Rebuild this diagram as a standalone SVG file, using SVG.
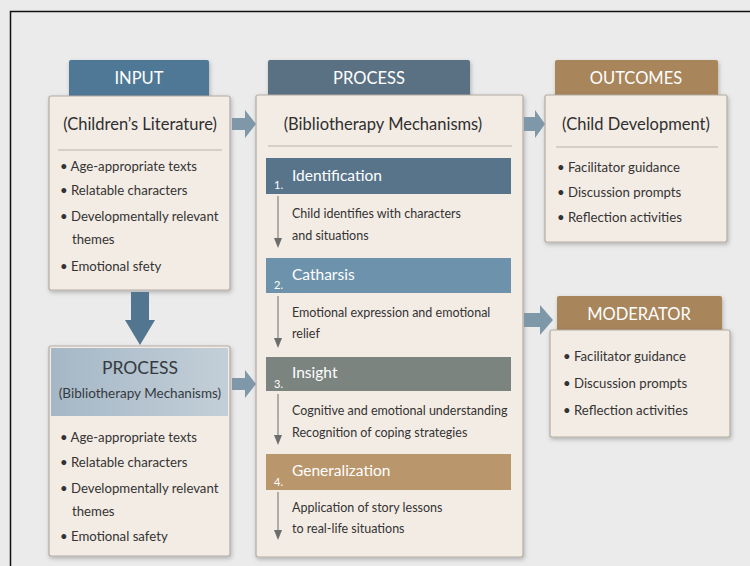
<svg xmlns="http://www.w3.org/2000/svg" width="750" height="566" viewBox="0 0 750 566">
<defs>
<filter id="sh" x="-10%" y="-10%" width="125%" height="125%">
<feDropShadow dx="1" dy="2" stdDeviation="2" flood-color="#000" flood-opacity="0.25"/>
</filter>
<linearGradient id="pg" x1="0" y1="0" x2="1" y2="0">
<stop offset="0" stop-color="#a5b7c6"/><stop offset="1" stop-color="#c3cfd8"/>
</linearGradient>
</defs>
<style>
text{font-family:Lato,"Open Sans","Liberation Sans",sans-serif}
.box{fill:#f3ece5;stroke:#b3aba3;stroke-width:1.2;filter:url(#sh)}
.tab{filter:url(#sh)}
.tt{fill:#fff;font-size:16.5px;text-anchor:middle}
.sub{fill:#2f2f2f;font-size:16.5px;text-anchor:middle}
.b{fill:#333;font-size:13.2px}
.d{fill:#333;font-size:12.5px}
.st{fill:#fff;font-size:15.5px}
.num{fill:#fff;font-size:11px}
.sep{stroke:#b9b1a9;stroke-width:1}
.ar{fill:#7f98a9}
.vl{stroke:#6d6d6d;stroke-width:1}
.vh{fill:#6d6d6d}
</style>
<rect x="0" y="0" width="750" height="566" fill="#ebebeb"/>
<path d="M10.5 566 V11.5 H750" fill="none" stroke="#111" stroke-width="1.5"/>

<g id="input">
<rect class="tab" x="69" y="60" width="140" height="38" rx="2" fill="#4f7896"/>
<text class="tt" x="139" y="84">INPUT</text>
<rect class="box" x="49" y="96" width="181" height="194" rx="2"/>
<text class="sub" x="140" y="130">(Children’s Literature)</text>
<line class="sep" x1="58" y1="150" x2="222" y2="150"/>
<text class="b" x="60" y="171">• Age-appropriate texts</text>
<text class="b" x="60" y="195">• Relatable characters</text>
<text class="b" x="60" y="221">• Developmentally relevant</text>
<text class="b" x="72" y="244">themes</text>
<text class="b" x="60" y="271">• Emotional sfety</text>
</g>

<g id="process-left">
<rect class="box" x="49" y="346" width="181" height="210" rx="2"/>
<rect x="51" y="348" width="177" height="68" fill="url(#pg)"/>
<text x="140" y="374" font-size="17.5" fill="#353a41" text-anchor="middle">PROCESS</text>
<text x="140" y="398" font-size="13.5" fill="#353a41" text-anchor="middle">(Bibliotherapy Mechanisms)</text>
<text class="b" x="60" y="442">• Age-appropriate texts</text>
<text class="b" x="60" y="467">• Relatable characters</text>
<text class="b" x="60" y="493">• Developmentally relevant</text>
<text class="b" x="72" y="516">themes</text>
<text class="b" x="60" y="541">• Emotional safety</text>
</g>

<g id="process">
<rect class="tab" x="268" y="60" width="202" height="38" rx="2" fill="#5a7184"/>
<text class="tt" x="369" y="84">PROCESS</text>
<rect class="box" x="256" y="95" width="267" height="462" rx="2"/>
<text class="sub" x="383" y="130">(Bibliotherapy Mechanisms)</text>
<line class="sep" x1="268" y1="146" x2="512" y2="146"/>

<rect x="266" y="158" width="245" height="36" fill="#58748a"/>
<text class="num" x="274" y="189">1.</text>
<text class="st" x="292" y="181">Identification</text>
<text class="d" x="292" y="218">Child identifies with characters</text>
<text class="d" x="292" y="240">and situations</text>

<rect x="266" y="258" width="245" height="35" fill="#6d92ab"/>
<text class="num" x="274" y="289">2.</text>
<text class="st" x="292" y="280">Catharsis</text>
<text class="d" x="292" y="317">Emotional expression and emotional</text>
<text class="d" x="292" y="338">relief</text>

<rect x="266" y="357" width="245" height="34" fill="#7c847f"/>
<text class="num" x="274" y="388">3.</text>
<text class="st" x="292" y="378">Insight</text>
<text class="d" x="292" y="415">Cognitive and emotional understanding</text>
<text class="d" x="292" y="437">Recognition of coping strategies</text>

<rect x="266" y="454" width="245" height="36" fill="#b9966b"/>
<text class="num" x="274" y="486">4.</text>
<text class="st" x="292" y="476">Generalization</text>
<text class="d" x="292" y="512">Application of story lessons</text>
<text class="d" x="292" y="533">to real-life situations</text>
</g>

<g id="outcomes">
<rect class="tab" x="555" y="60" width="163" height="37" rx="2" fill="#a8855a"/>
<text class="tt" x="636" y="84">OUTCOMES</text>
<rect class="box" x="545" y="95" width="182" height="147" rx="2"/>
<text class="sub" x="636" y="130">(Child Development)</text>
<line class="sep" x1="556" y1="147" x2="718" y2="147"/>
<text class="b" x="557" y="172">• Facilitator guidance</text>
<text class="b" x="557" y="197">• Discussion prompts</text>
<text class="b" x="557" y="222">• Reflection activities</text>
</g>

<g id="moderator">
<rect class="tab" x="557" y="296" width="165" height="37" rx="2" fill="#a8855a"/>
<text class="tt" x="639" y="320">MODERATOR</text>
<rect class="box" x="550" y="330" width="180" height="107" rx="2"/>
<text class="b" x="563" y="361">• Facilitator guidance</text>
<text class="b" x="563" y="388">• Discussion prompts</text>
<text class="b" x="563" y="415">• Reflection activities</text>
</g>

<g id="connectors">
<polygon class="ar" points="232,118 245,118 245,110 256,124 245,138 245,130 232,130"/>
<polygon class="ar" points="232,378 245,378 245,370 256,384 245,398 245,390 232,390"/>
<polygon class="ar" points="524,117 535,117 535,110 545,124 535,138 535,131 524,131"/>
<polygon class="ar" points="524,313 540,313 540,305 553,320 540,335 540,327 524,327"/>
<polygon fill="#52768f" points="131,292 149,292 149,320 155,320 140,345 125,320 131,320"/>
<line class="vl" x1="278" y1="196" x2="278" y2="240"/>
<polygon class="vh" points="274,238 282,238 278,248"/>
<line class="vl" x1="278" y1="296" x2="278" y2="340"/>
<polygon class="vh" points="274,338 282,338 278,348"/>
<line class="vl" x1="278" y1="394" x2="278" y2="437"/>
<polygon class="vh" points="274,435 282,435 278,445"/>
<line class="vl" x1="278" y1="492" x2="278" y2="532"/>
<polygon class="vh" points="274,530 282,530 278,540"/>
</g>
</svg>
